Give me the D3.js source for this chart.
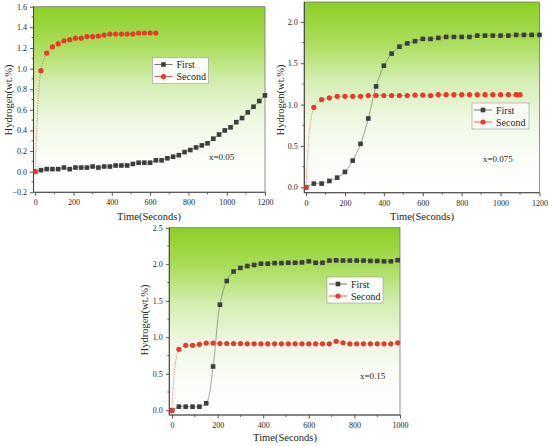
<!DOCTYPE html>
<html><head><meta charset="utf-8">
<script src="https://cdn.jsdelivr.net/npm/d3@7"></script>
<style>body{margin:0;background:#fff}svg{display:block}svg text{font-family:"Liberation Serif","Times New Roman",serif !important;font-weight:normal;fill:#262626}</style>
</head><body><svg id="c" width="550" height="446"></svg>
<script>
// ---------- data ----------
const p1Time = [0,30,60,90,120,150,180,210,240,270,300,330,360,390,420,450,480,510,540,570,600,630,660,690,720,750,780,810,840,870,900,930,960,990,1020,1050,1080,1110,1140,1170,1200];
const p1First = [0.0,0.015,0.025,0.025,0.025,0.04,0.025,0.04,0.04,0.04,0.05,0.04,0.05,0.05,0.06,0.06,0.06,0.075,0.087,0.087,0.087,0.11,0.11,0.13,0.145,0.16,0.19,0.21,0.235,0.255,0.275,0.32,0.36,0.40,0.43,0.48,0.52,0.575,0.63,0.685,0.74];
const p1Time2 = [0,30,60,90,120,150,180,210,240,270,300,330,360,390,420,450,480,510,540,570,600,630];
const p1Second = [0,0.98,1.15,1.21,1.24,1.27,1.28,1.295,1.295,1.31,1.31,1.315,1.325,1.335,1.335,1.335,1.335,1.335,1.345,1.345,1.345,1.345];

const p2Time = [0,40,80,120,160,200,240,280,320,360,400,440,480,520,560,600,640,680,720,760,800,840,880,920,960,1000,1040,1080,1120,1160,1200];
const p2First = [0,0.045,0.045,0.077,0.117,0.186,0.323,0.525,0.832,1.22,1.47,1.616,1.70,1.74,1.766,1.794,1.794,1.806,1.818,1.818,1.818,1.818,1.834,1.834,1.834,1.834,1.834,1.842,1.842,1.842,1.842];
const p2Time2 = [0,40,80,120,160,200,240,280,320,360,400,440,480,520,560,600,640,680,720,760,800,840,880,920,960,1000,1040,1080,1100];
const p2Second = [0,0.966,1.06,1.08,1.10,1.10,1.10,1.10,1.11,1.11,1.11,1.11,1.11,1.11,1.115,1.115,1.11,1.12,1.12,1.12,1.12,1.12,1.12,1.12,1.12,1.12,1.12,1.12,1.12];

const p3Time = [0,30,60,90,120,150,180,210,240,270,300,330,360,390,420,450,480,510,540,570,600,630,660,690,720,750,780,810,840,870,900,930,960,990];
const p3First = [0,0.05,0.05,0.05,0.05,0.096,0.60,1.446,1.77,1.90,1.95,1.975,1.99,2.007,2.007,2.016,2.016,2.02,2.02,2.025,2.04,2.02,2.02,2.05,2.053,2.05,2.05,2.05,2.05,2.045,2.045,2.04,2.04,2.055];
const p3Second = [0,0.835,0.89,0.89,0.903,0.92,0.92,0.915,0.915,0.915,0.915,0.91,0.91,0.91,0.91,0.91,0.91,0.91,0.91,0.91,0.91,0.91,0.91,0.91,0.945,0.925,0.91,0.91,0.91,0.91,0.91,0.91,0.91,0.925];

const seriesNames = ["First","Second"];
const xTitle = "Time(Seconds)";
const yTitle = "Hydrogen(wt.%)";
const p1XTicks = [0,200,400,600,800,1000,1200];
const p1YTicks = [-0.2,0,0.2,0.4,0.6,0.8,1.0,1.2,1.4,1.6];
const p2XTicks = [0,200,400,600,800,1000,1200];
const p2YTicks = [0,0.5,1.0,1.5,2.0];
const p3XTicks = [0,200,400,600,800,1000];
const p3YTicks = [0,0.5,1.0,1.5,2.0,2.5];
const labels = ["x=0.05","x=0.075","x=0.15"];

// ---------- drawing ----------
const FONT = "'Liberation Serif','Times New Roman',serif";
const svg = d3.select("#c");
const defs = svg.append("defs");
const grad = defs.append("linearGradient").attr("id","bg").attr("x1",0).attr("y1",0).attr("x2",0).attr("y2",1);
[[0,"#8ccf26"],[0.2,"#a9dc58"],[0.42,"#d5eeb4"],[0.62,"#eff8e4"],[0.82,"#fbfdf8"],[1,"#ffffff"]]
  .forEach(([o,c])=>grad.append("stop").attr("offset",o).attr("stop-color",c));

const SQ="#3d3d3d", RD="#e8392d";

function panel(cfg){
  const {L,R,T,B,xDom,yDom,xTicks,yTicks,xMinor,yMinor,t1,v1,t2,v2,legend,label,labelPos,xTitlePos,yTitlePos} = cfg;
  const x = d3.scaleLinear().domain(xDom).range([L,R]);
  const y = d3.scaleLinear().domain(yDom).range([B,T]);
  const g = svg.append("g");
  g.append("rect").attr("x",L).attr("y",T).attr("width",R-L).attr("height",B-T).attr("fill","url(#bg)");
  g.append("rect").attr("x",L).attr("y",T).attr("width",R-L).attr("height",B-T).attr("fill","none").attr("stroke","#777").attr("stroke-width",0.8);
  const fmtY = d=>d3.format(".1f")(d);
  const xa = d3.axisBottom(x).tickValues(xTicks).tickSize(3.5).tickPadding(4).tickFormat(d3.format("d"));
  const ya = d3.axisLeft(y).tickValues(yTicks).tickSize(3.5).tickPadding(3).tickFormat(fmtY);
  const gx = g.append("g").attr("transform",`translate(0,${B})`).call(xa);
  const gy = g.append("g").attr("transform",`translate(${L},0)`).call(ya);
  [gx,gy].forEach(a=>{
    a.attr("font-family",FONT);
    a.select(".domain").attr("stroke","#444").attr("stroke-width",1.1);
    a.selectAll(".tick line").attr("stroke","#444").attr("stroke-width",0.9);
    a.selectAll(".tick text").attr("font-size",8).attr("fill","#333");
  });
  gx.select(".domain").attr("d",`M${L},0H${R}`);
  gy.select(".domain").attr("d",`M0,${B}V${T}`);
  g.append("g").selectAll("line").data(xMinor).join("line")
    .attr("x1",d=>x(d)).attr("x2",d=>x(d)).attr("y1",B).attr("y2",B+2).attr("stroke","#444").attr("stroke-width",0.8);
  g.append("g").selectAll("line").data(yMinor).join("line")
    .attr("y1",d=>y(d)).attr("y2",d=>y(d)).attr("x1",L).attr("x2",L-2).attr("stroke","#444").attr("stroke-width",0.8);

  const clip = "cl"+Math.round(L)+"_"+Math.round(T);
  defs.append("clipPath").attr("id",clip).append("rect").attr("x",L).attr("y",T-3).attr("width",R-L+3).attr("height",B-T+3);
  const pg = g.append("g").attr("clip-path",`url(#${clip})`);
  const d1 = t1.map((t,i)=>[t,v1[i]]), d2 = t2.map((t,i)=>[t,v2[i]]);
  const line = d3.line().x(d=>x(d[0])).y(d=>y(d[1])).curve(d3.curveCatmullRom.alpha(0.5));
  pg.append("path").attr("d",line(d1)).attr("fill","none").attr("stroke","#6a6a6a").attr("stroke-width",0.6);
  pg.append("path").attr("d",line(d2)).attr("fill","none").attr("stroke","#e8703a").attr("stroke-width",0.7).attr("stroke-dasharray","1.5,1");
  const s=4.6;
  pg.append("g").selectAll("rect").data(d1).join("rect")
    .attr("x",d=>x(d[0])-s/2).attr("y",d=>y(d[1])-s/2).attr("width",s).attr("height",s).attr("fill",SQ);
  pg.append("g").selectAll("circle").data(d2).join("circle")
    .attr("cx",d=>x(d[0])).attr("cy",d=>y(d[1])).attr("r",2.6).attr("fill",RD);

  const [lx,ly,lw,lh] = legend;
  const lg = g.append("g");
  lg.append("rect").attr("x",lx).attr("y",ly).attr("width",lw).attr("height",lh).attr("fill","#fafcf6").attr("stroke","#999").attr("stroke-width",0.6);
  [0,1].forEach(i=>{
    const yy = ly+7+i*12;
    lg.append("line").attr("x1",lx+2).attr("x2",lx+20).attr("y1",yy).attr("y2",yy).attr("stroke",i?RD:"#555").attr("stroke-width",0.8);
    if(i===0) lg.append("rect").attr("x",lx+11-2.3).attr("y",yy-2.3).attr("width",4.6).attr("height",4.6).attr("fill",SQ);
    else lg.append("circle").attr("cx",lx+11).attr("cy",yy).attr("r",2.6).attr("fill",RD);
    lg.append("text").attr("x",lx+24).attr("y",yy+3.5).attr("font-size",10).attr("font-family",FONT).text(seriesNames[i]);
  });
  g.append("text").attr("x",labelPos[0]).attr("y",labelPos[1]).attr("font-size",9).attr("font-family",FONT).text(label);
  g.append("text").attr("x",xTitlePos[0]).attr("y",xTitlePos[1]).attr("text-anchor","middle").attr("font-size",10.5).attr("font-family",FONT).text(xTitle);
  g.append("text").attr("transform",`translate(${yTitlePos[0]},${yTitlePos[1]}) rotate(-90)`).attr("text-anchor","middle").attr("font-size",10.5).attr("font-family",FONT).text(yTitle);
}

panel({L:33.5,R:265,T:6.7,B:192.3,xDom:[-9,1200],yDom:[-0.2,1.6],xTicks:p1XTicks,yTicks:p1YTicks,
  xMinor:[100,300,500,700,900,1100],yMinor:[-0.1,0.1,0.3,0.5,0.7,0.9,1.1,1.3,1.5],
  t1:p1Time,v1:p1First,t2:p1Time2,v2:p1Second,legend:[152.5,57.5,56,26],label:labels[0],labelPos:[209,160],
  xTitlePos:[149,220],yTitlePos:[12,100]});
panel({L:304.3,R:539.5,T:2,B:192.7,xDom:[-9,1200],yDom:[-0.065,2.24],xTicks:p2XTicks,yTicks:p2YTicks,
  xMinor:[100,300,500,700,900,1100],yMinor:[0.25,0.75,1.25,1.75],
  t1:p2Time,v1:p2First,t2:p2Time2,v2:p2Second,legend:[472,103,57,26],label:labels[1],labelPos:[483,162],
  xTitlePos:[422,220],yTitlePos:[284,100]});
panel({L:169.3,R:400,T:227.7,B:415,xDom:[-12,1000],yDom:[-0.064,2.5],xTicks:p3XTicks,yTicks:p3YTicks,
  xMinor:[100,300,500,700,900],yMinor:[0.25,0.75,1.25,1.75,2.25],
  t1:p3Time,v1:p3First,t2:p3Time,v2:p3Second,legend:[327,277,56,26],label:labels[2],labelPos:[360,379],
  xTitlePos:[285,441],yTitlePos:[148,320]});
</script></body></html>
